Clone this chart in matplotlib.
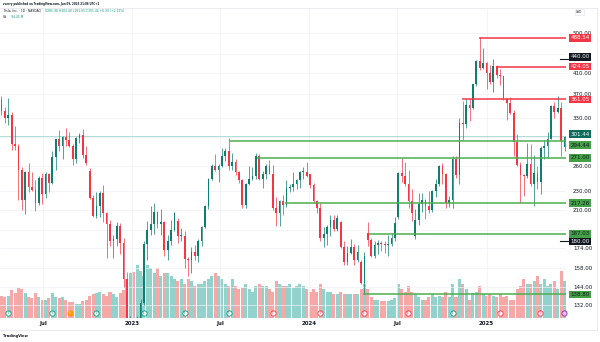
import matplotlib
matplotlib.use("Agg")
import matplotlib.pyplot as plt
import matplotlib.dates as mdates
import matplotlib.transforms as mtransforms
from matplotlib.ticker import NullLocator
import pandas as pd

# weekly candles, Tesla (TSLA), weeks starting Monday 2022-04-04
first_week = "2022-04-04"

opens = [
    # 2022
    360, 341, 329, 335, 290, 288, 256, 221, 253, 235, 232, 217, 246, 227, 251, 240, 272, 297, 288, 300,
    296, 288, 270, 299, 303, 275, 254, 223, 204, 214, 228, 207, 196, 180, 182, 194, 179, 150, 123,
    # 2023
    118, 113, 122, 133, 178, 190, 196, 208, 196, 198, 173, 180, 190, 199, 185, 185, 165, 164, 171, 168,
    180, 193, 214, 245, 260, 256, 261, 274, 281, 260, 266, 253, 243, 215, 238, 245, 248, 274, 244, 250,
    260, 251, 212, 207, 219, 215, 234, 235, 239, 243, 253, 253,
    # 2024
    250, 237, 219, 212, 183, 187, 193, 200, 191, 198, 175, 163, 170, 175, 164, 163, 147, 188, 181, 168,
    177, 179, 178, 177, 178, 183, 203, 252, 248, 239, 219, 185, 200, 216, 220, 214, 210, 230, 238, 260,
    250, 217, 220, 269, 249, 321, 320, 352, 346, 389, 436, 421, 432,
    # 2025
    410, 394, 426, 406, 404, 361, 355, 337, 293, 262, 249, 248, 263, 239, 252, 241, 284, 287, 298, 349,
    339, 346, 286,
]
highs = [
    368, 347, 364, 340, 317, 290, 259, 254, 264, 253, 243, 248, 252, 253, 252, 280, 298, 311, 302, 314,
    307, 290, 300, 306, 313, 288, 258, 226, 229, 230, 237, 208, 200, 186, 198, 197, 183, 155, 125,
    124, 125, 136, 180, 199, 214, 217, 209, 211, 199, 186, 200, 208, 202, 192, 189, 167, 175, 177, 182,
    194, 215, 246, 263, 276, 263, 284, 285, 299, 277, 269, 254, 245, 240, 261, 259, 278, 276, 254, 263,
    268, 262, 224, 221, 226, 243, 238, 253, 245, 254, 259, 266,
    251, 240, 220, 217, 193, 195, 205, 205, 205, 199, 180, 176, 182, 178, 177, 164, 171, 198, 183, 180,
    181, 180, 180, 186, 188, 203, 253, 271, 266, 255, 233, 211, 228, 228, 222, 230, 232, 244, 262, 265,
    252, 225, 273, 273, 329, 358, 361, 361, 390, 437, 489, 465, 434,
    427, 439, 428, 419, 405, 362, 366, 342, 304, 266, 251, 291, 290, 275, 261, 287, 296, 307, 351, 356,
    367, 356, 302,
]
lows = [
    335, 322, 318, 282, 282, 221, 210, 206, 229, 231, 209, 215, 216, 223, 229, 238, 255, 281, 270, 288,
    286, 262, 265, 291, 271, 262, 222, 203, 202, 203, 198, 166, 176, 166, 176, 169, 144, 122, 108,
    101, 104, 120, 132, 164, 186, 187, 192, 186, 168, 164, 177, 189, 179, 180, 158, 152, 154, 164, 163,
    176, 192, 211, 243, 254, 241, 259, 267, 255, 255, 249, 240, 212, 212, 237, 243, 245, 243, 234, 244,
    250, 210, 194, 194, 205, 213, 229, 231, 233, 234, 245, 247,
    234, 217, 207, 180, 175, 177, 185, 189, 189, 174, 160, 160, 169, 160, 163, 146, 139, 176, 167, 166,
    169, 172, 170, 168, 176, 180, 201, 241, 236, 212, 199, 182, 195, 208, 201, 207, 208, 224, 236, 238,
    212, 213, 212, 246, 239, 296, 314, 325, 344, 385, 416, 419, 379,
    390, 374, 400, 388, 360, 326, 336, 273, 260, 217, 225, 246, 236, 214, 233, 227, 269, 271, 297, 330,
    337, 273, 281,
]
closes = [
    341, 329, 335, 290, 288, 256, 221, 253, 235, 232, 217, 246, 227, 251, 240, 272, 297, 288, 300, 296,
    288, 270, 299, 303, 275, 265, 223, 204, 214, 228, 207, 196, 180, 182, 194, 179, 150, 123, 123,
    113, 122, 133, 178, 190, 196, 208, 196, 198, 173, 180, 190, 207, 185, 185, 165, 164, 171, 168, 180,
    193, 214, 245, 260, 256, 261, 274, 281, 260, 266, 253, 243, 215, 238, 245, 248, 274, 244, 250, 260,
    251, 212, 207, 219, 215, 234, 235, 239, 243, 253, 253, 248,
    237, 219, 212, 183, 187, 193, 200, 191, 202, 175, 163, 170, 175, 164, 171, 147, 168, 181, 168, 177,
    179, 178, 177, 178, 183, 197, 252, 248, 239, 219, 207, 200, 216, 220, 214, 210, 230, 238, 260, 250,
    217, 220, 269, 249, 321, 320, 352, 346, 389, 436, 421, 432, 410,
    394, 426, 406, 404, 361, 355, 337, 293, 262, 249, 248, 263, 239, 252, 241, 284, 287, 298, 349, 339,
    346, 295, 301,
]
# average daily volume per week, millions of shares
volumes = [
    85, 80, 85, 105, 95, 115, 110, 95, 80, 75, 95, 80, 70, 70, 75, 95, 80, 78, 80, 68,
    62, 60, 55, 55, 65, 70, 85, 90, 95, 100, 90, 85, 100, 90, 80, 95, 105, 150, 170,
    175, 200, 180, 160, 200, 190, 170, 190, 160, 170, 170, 160, 150, 140, 150, 130, 150, 140, 120, 130,
    130, 140, 150, 160, 170, 160, 150, 130, 120, 150, 120, 110, 115, 130, 110, 100, 120, 130, 120, 120,
    110, 100, 140, 130, 120, 120, 130, 115, 120, 130, 120, 110,
    100, 110, 100, 130, 110, 100, 100, 90, 90, 100, 90, 90, 90, 90, 90, 110, 130, 110, 80, 70,
    70, 65, 65, 65, 70, 75, 130, 110, 100, 120, 100, 90, 80, 70, 70, 80, 90, 80, 85, 80,
    100, 80, 130, 80, 150, 130, 110, 70, 95, 100, 120, 90, 85,
    90, 85, 80, 90, 80, 85, 70, 70, 110, 120, 150, 130, 130, 140, 160, 130, 150, 120, 130, 140,
    110, 180, 140,
]

# drawn support / resistance levels
level_prices = [488.54, 424.05, 361.05, 294.44, 271.00, 217.26, 187.03, 138.80]
level_start = ["2024-12-17", "2025-01-20", "2024-11-12", "2023-07-19",
               "2023-09-15", "2023-11-13", "2024-05-04", "2024-04-22"]
level_kind = ["res", "res", "res", "sup", "sup", "sup", "sup", "sup"]
alert_prices = [440.00, 180.00]
last_price = 301.44

grid_prices = [132, 144, 158, 174, 190, 210, 230, 260, 300, 330, 370, 410, 450, 500]
price_ticks = [132, 144, 158, 174, 210, 230, 260, 330, 370, 410, 500]
time_ticks = ["2022-07-01", "2023-01-01", "2023-07-01", "2024-01-01", "2024-07-01", "2025-01-01"]
time_labels = ["Jul", "2023", "Jul", "2024", "Jul", "2025"]

earnings_dates = ["2022-04-20", "2022-07-20", "2022-10-19", "2023-01-25", "2023-04-19",
                  "2023-07-19", "2023-10-18", "2024-01-24", "2024-04-23", "2024-07-23",
                  "2024-10-23", "2025-01-29", "2025-04-22"]
earnings_beat = [True, True, True, True, True, True, False, False, False, False, True, False, False]
split_date = "2022-08-25"

UP = "#0e7f6d"
DOWN = "#f23645"
SUP = "#4caf50"
RES = "#f23645"
TEXT = "#131722"

weeks = pd.date_range(first_week, periods=len(closes), freq="W-MON")
xs = mdates.date2num(weeks + pd.Timedelta(days=2))

fig = plt.figure(figsize=(6, 3.42), dpi=100)
rect = [0.0, (342 - 318) / 342, 566 / 600, 310 / 342]
xmin = mdates.date2num(pd.Timestamp("2022-04-03"))
xmax = mdates.date2num(pd.Timestamp("2025-06-14"))

# volume pane underneath
axv = fig.add_axes(rect)
colors_v = ["#26a69a" if c >= o else "#ef5350" for o, c in zip(opens, closes)]
axv.bar(xs, volumes, width=6.2, color=colors_v, alpha=0.5, linewidth=0)
axv.set_xlim(xmin, xmax)
axv.set_ylim(0, 1180)
axv.axis("off")

ax = fig.add_axes(rect)
ax.patch.set_alpha(0)
ax.set_yscale("log")
ax.set_ylim(123.7, 565)
ax.set_xlim(xmin, xmax)

for x, o, h, l, c in zip(xs, opens, highs, lows, closes):
    col = UP if c >= o else DOWN
    ax.vlines(x, l, h, color=col, linewidth=0.5, zorder=3)
    bot = min(o, c)
    ht = max(abs(c - o), 0.6)
    ax.bar(x, ht, bottom=bot, width=3.6, color=col, linewidth=0, zorder=4)

# grid
for p in grid_prices:
    ax.axhline(p, color="#eef0f5", linewidth=0.5, zorder=0)
for d in time_ticks:
    ax.axvline(mdates.date2num(pd.Timestamp(d)), color="#eef0f5", linewidth=0.5, zorder=0)

ax.axhline(last_price, color="#9fd8cf", linewidth=0.6, zorder=2)

for p, d, k in zip(level_prices, level_start, level_kind):
    ax.hlines(p, mdates.date2num(pd.Timestamp(d)), xmax, color=SUP if k == "sup" else RES,
              linewidth=1.1, zorder=5)

ax.yaxis.tick_right()
ax.set_yticks(price_ticks)
ax.set_yticklabels([f"{p:.2f}" for p in price_ticks])
ax.yaxis.set_minor_locator(NullLocator())
ax.tick_params(axis="y", length=0, pad=5, labelsize=4, labelcolor=TEXT)
ax.set_xticks([mdates.date2num(pd.Timestamp(d)) for d in time_ticks])
ax.set_xticklabels(time_labels, fontweight="bold")
ax.tick_params(axis="x", length=0, pad=2, labelsize=4, labelcolor=TEXT)
for s in ax.spines.values():
    s.set_visible(False)

# price labels on the scale (nudged apart like TradingView does)
bt = mtransforms.blended_transform_factory(ax.transAxes, ax.transData)


def scale_label(price, fc, tc, dy=0):
    tr = bt + mtransforms.ScaledTranslation(0, dy / 72, fig.dpi_scale_trans)
    ax.text(1.0075, price, f"{price:.2f}", transform=tr, ha="left", va="center", fontsize=4,
            color=tc, zorder=10, clip_on=False,
            bbox=dict(boxstyle="square,pad=0.25", fc=fc, ec="none"))


nudge = {301.44: 1.5, 294.44: -3.0, 440.00: 1.5}
for p, k in zip(level_prices, level_kind):
    if k == "sup":
        scale_label(p, "#43a047", TEXT, nudge.get(p, 0))
    else:
        scale_label(p, RES, "white", nudge.get(p, 0))
scale_label(last_price, "#0c6b5b", "white", nudge[301.44])
for p in alert_prices:
    ax.plot([0.99, 1.004], [p, p], transform=bt, color=TEXT, linewidth=0.8, clip_on=False, zorder=9)
    scale_label(p, TEXT, "white", nudge.get(p, 0))

# earnings / events strip
xt = ax.get_xaxis_transform()
for d, beat in zip(earnings_dates, earnings_beat):
    col = "#089981" if beat else "#f23645"
    x = mdates.date2num(pd.Timestamp(d))
    ax.scatter([x], [0.016], s=14, facecolor="white", edgecolor=col, linewidth=0.6,
               transform=xt, zorder=8, clip_on=False)
    ax.text(x, 0.016, "E", transform=xt, fontsize=2, color=col, ha="center", va="center", zorder=9)
xs_split = mdates.date2num(pd.Timestamp(split_date))
ax.scatter([xs_split], [0.016], s=14, facecolor="#ff9800", edgecolor="#ff9800", linewidth=0.6,
           transform=xt, zorder=8)
ax.text(xs_split, 0.016, "S", transform=xt, fontsize=2, color="white", ha="center", va="center", zorder=9)
ax.scatter([mdates.date2num(pd.Timestamp("2025-06-09"))], [0.016], s=14, facecolor="#e1bee7",
           edgecolor="#9c27b0", linewidth=0.6, transform=xt, zorder=8, clip_on=False)

# header
fig.text(3 / 600, 1 - 4 / 342, "zverry published on TradingView.com, Jun 09, 2025 21:06 UTC+2",
         fontsize=1.9, color=TEXT, fontweight="bold", va="center")
fig.text(3 / 600, 1 - 11 / 342, "Tesla, Inc. · 1D · NASDAQ", fontsize=2.2, color=TEXT, va="center")
fig.text(45 / 600, 1 - 11 / 342, "O285.96 H302.40 L281.05 C301.44 +6.30 (+2.13%)",
         fontsize=2.2, color="#089981", va="center")
fig.text(3 / 600, 1 - 17 / 342, "Vol", fontsize=2.2, color=TEXT, va="center")
fig.text(11 / 600, 1 - 17 / 342, "94.45 M", fontsize=2.2, color="#089981", va="center")
fig.text(576 / 600, 1 - 12 / 342, "USD", fontsize=2.2, color=TEXT, va="center",
         bbox=dict(boxstyle="square,pad=0.4", fc="white", ec="#e0e3eb", lw=0.4))
fig.text(3 / 600, 1 - 336 / 342, "TradingView", fontsize=2.6, color=TEXT, fontweight="bold", va="center")

fig.add_artist(plt.Line2D([0, 597 / 600], [1 - 8 / 342, 1 - 8 / 342], color="#e0e3eb", linewidth=0.5))
fig.add_artist(plt.Line2D([0, 597 / 600], [1 - 330 / 342, 1 - 330 / 342], color="#e0e3eb", linewidth=0.5))
fig.add_artist(plt.Line2D([597 / 600, 597 / 600], [1 - 330 / 342, 1 - 8 / 342], color="#e0e3eb", linewidth=0.5))

fig.savefig("out.png", dpi=100, facecolor="white")
